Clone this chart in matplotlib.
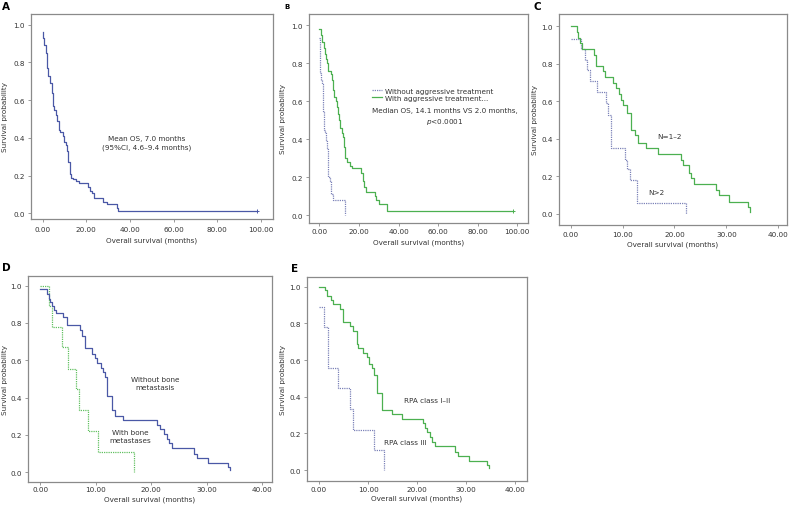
"""
Kaplan-Meier survival curves, five panels (A-E).
"""
import numpy as np
import matplotlib
matplotlib.use('Agg')
import matplotlib.pyplot as plt
from matplotlib.ticker import FormatStrFormatter

matplotlib.rcParams.update({'font.size': 5.2, 'font.family': 'DejaVu Sans'})

# --- data (time in months, survival probability) ---
A_t = [0, 0.3, 0.8, 1.4, 1.8, 2.6, 3.4, 4.1, 4.6, 5.3, 6.1, 6.7, 7.3, 8.2, 9.2, 9.8, 10.5,
       11.3, 11.8, 12.7, 13.0, 14.0, 15.3, 16.8, 20.9, 21.7, 22.4, 23.7, 27.8, 29.3, 33.9, 34.7, 98]
A_s = [0.96, 0.93, 0.89, 0.85, 0.77, 0.73, 0.69, 0.64, 0.57, 0.55, 0.52, 0.49, 0.44, 0.43, 0.41,
       0.38, 0.36, 0.33, 0.27, 0.21, 0.19, 0.18, 0.17, 0.16, 0.14, 0.12, 0.11, 0.08, 0.06, 0.05,
       0.03, 0.015, 0.015]

B_with_t = [0, 0.9, 1.4, 2.1, 2.6, 3.5, 4.0, 4.4, 5.8, 6.5, 7.0, 7.5, 8.2, 9.1, 9.6, 10.1, 10.5,
            11.4, 11.7, 12.2, 13.1, 14.0, 15.2, 16.3, 21.0, 21.9, 22.7, 23.6, 28.0, 28.8, 30.2, 34.4, 98]
B_with_s = [0.98, 0.95, 0.91, 0.88, 0.85, 0.82, 0.80, 0.76, 0.74, 0.71, 0.66, 0.62, 0.60, 0.57,
            0.53, 0.50, 0.46, 0.43, 0.41, 0.36, 0.30, 0.28, 0.26, 0.245, 0.22, 0.18, 0.15, 0.12,
            0.10, 0.08, 0.06, 0.02, 0.02]
B_without_t = [0, 0.2, 0.5, 0.9, 1.2, 1.6, 1.9, 2.1, 2.4, 2.9, 3.3, 3.8, 4.2, 4.5, 5.1, 5.6, 6.0, 7.0, 13.0]
B_without_s = [0.93, 0.86, 0.75, 0.71, 0.69, 0.61, 0.55, 0.50, 0.45, 0.43, 0.39, 0.35, 0.27, 0.20,
               0.18, 0.13, 0.11, 0.08, 0.0]

C_low_t = [0, 1.3, 1.5, 1.8, 2.1, 4.5, 4.9, 6.2, 6.6, 8.2, 8.7, 9.4, 9.7, 10.1, 10.8, 11.7, 12.4,
           13.0, 14.6, 16.9, 21.3, 21.7, 22.8, 23.2, 23.8, 28.1, 28.6, 30.5, 34.1, 34.6]
C_low_s = [1.0, 0.97, 0.94, 0.91, 0.88, 0.85, 0.79, 0.76, 0.73, 0.70, 0.67, 0.64, 0.61, 0.58, 0.54,
           0.45, 0.42, 0.38, 0.35, 0.32, 0.29, 0.26, 0.22, 0.19, 0.16, 0.13, 0.10, 0.065, 0.035, 0.01]
C_high_t = [0, 1.9, 2.8, 3.1, 3.8, 5.0, 6.8, 7.2, 7.7, 10.4, 10.9, 11.4, 12.7, 22.3]
C_high_s = [0.935, 0.88, 0.82, 0.77, 0.71, 0.65, 0.59, 0.53, 0.35, 0.29, 0.24, 0.18, 0.06, 0.0]

D_nobone_t = [0, 1.2, 1.5, 1.8, 2.1, 2.5, 2.9, 4.2, 4.8, 7.1, 7.5, 8.0, 9.3, 9.8, 10.2, 11.0, 11.3,
              11.7, 12.0, 13.0, 13.4, 14.9, 21.1, 21.6, 22.3, 22.8, 23.2, 23.8, 27.7, 28.3, 30.2, 33.9, 34.3]
D_nobone_s = [0.98, 0.955, 0.93, 0.91, 0.89, 0.87, 0.855, 0.83, 0.79, 0.76, 0.73, 0.665, 0.635, 0.61,
              0.585, 0.56, 0.535, 0.51, 0.41, 0.335, 0.30, 0.28, 0.255, 0.23, 0.205, 0.18, 0.155,
              0.13, 0.10, 0.075, 0.05, 0.03, 0.01]
D_bone_t = [0, 1.6, 2.1, 4.0, 5.1, 6.5, 7.0, 8.6, 10.4, 17.0]
D_bone_s = [1.0, 0.89, 0.78, 0.67, 0.555, 0.445, 0.335, 0.22, 0.11, 0.0]

E_rpa12_t = [0, 1.2, 1.7, 2.4, 2.9, 4.3, 4.8, 6.3, 6.9, 7.7, 8.0, 9.0, 9.7, 10.2, 10.7, 11.2, 11.8,
             12.8, 14.8, 16.9, 21.3, 21.6, 22.1, 22.7, 23.0, 23.7, 27.8, 28.4, 30.5, 34.2, 34.6]
E_rpa12_s = [1.0, 0.98, 0.95, 0.93, 0.905, 0.88, 0.81, 0.785, 0.76, 0.69, 0.665, 0.64, 0.615, 0.58,
             0.555, 0.52, 0.42, 0.33, 0.305, 0.28, 0.255, 0.23, 0.205, 0.18, 0.155, 0.13, 0.10,
             0.075, 0.05, 0.03, 0.01]
E_rpa3_t = [0, 1.0, 1.9, 3.9, 6.3, 7.0, 11.2, 13.3]
E_rpa3_s = [0.89, 0.78, 0.555, 0.445, 0.335, 0.22, 0.11, 0.0]

BLUE = '#4a58a6'
BLUE_DOT = '#7c82b8'
GREEN = '#4cb050'
GREEN_DOT = '#62c061'
FRAME = '#8a8a8a'
TXT = '#333333'
FS = 5.2

W, H = 793, 510
fig = plt.figure(figsize=(W / 100, H / 100), dpi=100)


def make_axes(left, top, right, bottom, xlim, ylim, xticks, ylab_x, xpad, xlabpad):
    ax = fig.add_axes([left / W, 1 - bottom / H, (right - left) / W, (bottom - top) / H])
    ax.set_xlim(*xlim)
    ax.set_ylim(*ylim)
    ax.set_xticks(xticks)
    ax.set_yticks(np.arange(0, 1.01, 0.2))
    ax.xaxis.set_major_formatter(FormatStrFormatter('%.2f'))
    ax.yaxis.set_major_formatter(FormatStrFormatter('%.1f'))
    for sp in ax.spines.values():
        sp.set_color(FRAME)
        sp.set_linewidth(0.9)
    ax.tick_params(direction='out', length=2, width=0.6, color=FRAME,
                   labelcolor=TXT, labelsize=FS, pad=2.5)
    ax.tick_params(axis='x', pad=xpad)
    ax.set_xlabel('Overall survival (months)', color=TXT, fontsize=FS, labelpad=xlabpad)
    ax.set_ylabel('Survival probability', color=TXT, fontsize=FS)
    # ylabel: x given as pixel of the label's centre
    ax.yaxis.set_label_coords((ylab_x + 3.5 - left) / (right - left), 0.5)
    return ax


def km(ax, t, s, color, ls='-', lw=0.9):
    return ax.step(t, s, where='post', color=color, ls=ls, lw=lw)[0]


DOTS = (0, (1, 0.8))

# A
ax = make_axes(31, 15, 273, 220, (-5.3, 105.5), (-0.03, 1.057), np.arange(0, 101, 20),
               5, 3, 3)
km(ax, A_t, A_s, BLUE)
ax.plot(A_t[-1], A_s[-1], marker='+', color=BLUE, ms=3.5, mew=0.7)
ax.text(47.8, 0.378, 'Mean OS, 7.0 months\n(95%CI, 4.6–9.4 months)', ha='center', va='center',
        color=TXT, fontsize=FS, linespacing=1.5)

# B
ax = make_axes(309, 15, 528, 224, (-5.3, 105.5), (-0.042, 1.058), np.arange(0, 101, 20),
               283, 1.5, 3.5)
l1 = km(ax, B_without_t, B_without_s, BLUE_DOT, ls=DOTS)
l2 = km(ax, B_with_t, B_with_s, GREEN)
ax.plot(B_with_t[-1], B_with_s[-1], marker='+', color=GREEN, ms=3.5, mew=0.7)
ax.legend([l1, l2], ['Without aggressive treatment', 'With aggressive treatment...'],
          loc='upper left', bbox_to_anchor=((368 - 309) / 219, (224 - 85) / 209),
          frameon=False, fontsize=FS, borderpad=0, handlelength=1.5, handletextpad=0.4,
          labelspacing=0.15, labelcolor=TXT)
ax.text(63.5, 0.518, 'Median OS, 14.1 months VS 2.0 months,\n$p$<0.0001', ha='center',
        va='center', color=TXT, fontsize=FS, linespacing=1.5)

# C
ax = make_axes(559, 15, 787, 226, (-2.25, 41.7), (-0.059, 1.066), np.arange(0, 41, 10),
               535, 2, 2.5)
km(ax, C_high_t, C_high_s, BLUE_DOT, ls=DOTS)
km(ax, C_low_t, C_low_s, GREEN)
ax.text(19.1, 0.416, 'N=1–2', ha='center', va='center', color=TXT, fontsize=FS)
ax.text(16.6, 0.117, 'N>2', ha='center', va='center', color=TXT, fontsize=FS)

# D
ax = make_axes(28, 277, 272, 483, (-2.2, 41.8), (-0.052, 1.051), np.arange(0, 41, 10),
               4, 1.2, 2)
km(ax, D_bone_t, D_bone_s, GREEN_DOT, ls=DOTS)
km(ax, D_nobone_t, D_nobone_s, BLUE)
ax.text(20.7, 0.478, 'Without bone\nmetastasis', ha='center', va='center', color=TXT,
        fontsize=FS, linespacing=1.5)
ax.text(16.2, 0.195, 'With bone\nmetastases', ha='center', va='center', color=TXT,
        fontsize=FS, linespacing=1.5)

# E
ax = make_axes(307, 278, 527, 482, (-2.45, 42.4), (-0.06, 1.053), np.arange(0, 41, 10),
               283, 1.5, 2)
km(ax, E_rpa3_t, E_rpa3_s, BLUE_DOT, ls=DOTS)
km(ax, E_rpa12_t, E_rpa12_s, GREEN)
ax.text(22.0, 0.382, 'RPA class I–II', ha='center', va='center', color=TXT, fontsize=FS)
ax.text(17.6, 0.153, 'RPA class III', ha='center', va='center', color=TXT, fontsize=FS)

# panel letters
for letter, x, y, size in [('A', 2, 2, 7.5), ('B', 284, 4, 5), ('C', 534, 2, 7.5),
                           ('D', 2, 263, 7.5), ('E', 291, 264, 7.5)]:
    fig.text(x / W, 1 - y / H, letter, ha='left', va='top', fontsize=size,
             fontweight='bold', color='black')

fig.savefig('out.png', dpi=100)
